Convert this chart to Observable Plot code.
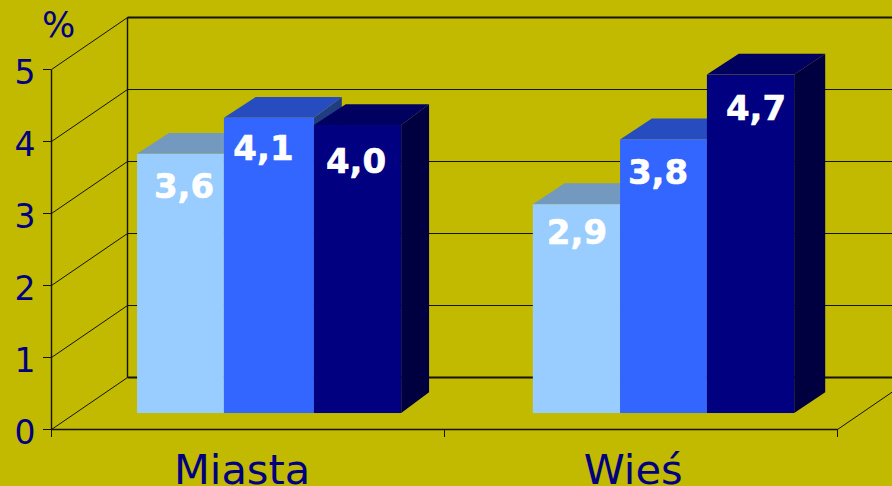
<!DOCTYPE html>
<html><head><meta charset="utf-8">
<script src="https://cdn.jsdelivr.net/npm/d3@7"></script>
<script src="https://cdn.jsdelivr.net/npm/@observablehq/plot@0.6"></script>
<style>html,body{margin:0;padding:0;background:#C1BA00;overflow:hidden}svg{display:block}</style>
</head><body><div id="chart"></div>
<script>
const categories = ["Miasta", "Wieś"];
const seriesLight = [3.6, 2.9];
const seriesMid = [4.1, 3.8];
const seriesDark = [4.0, 4.7];
const valueTicks = [0, 1, 2, 3, 4, 5];
const decimalLabel = v => v.toFixed(1).replace(".", ",");

const bg = "#C1BA00", navy = "#000080", line = "#141300";
const faces = [
  {front: "#99CCFF", top: "#7399BF", side: "#4D6680"},
  {front: "#3366FF", top: "#264CBF", side: "#1F3D80"},
  {front: "#000080", top: "#000060", side: "#000040"}
];
const series = [seriesLight, seriesMid, seriesDark];

// geometry in data units: x in categories, y in value units
const edges = [[0.219, 0.440, 0.669, 0.891], [1.226, 1.448, 1.669, 1.891]];
const floor = 0.222, barDY = 0.29, barDXLeft = 0.081, barDXRight = [0.071, 0.079];
const wallDX = 0.1934, wallDY = 0.722;
const labelNudge = [
  [[3, 33], [-6, 31], [-2, 37]],
  [[0, 28], [-6, 33], [5, 34]]
];
const catCenter = [0.485, 1.48];

const walls = [
  ...valueTicks.map(v => ({x1: 0, y1: v, x2: wallDX, y2: v + wallDY})),
  {x1: 2, y1: 0, x2: 2 + wallDX, y2: wallDY}
];
const grid = valueTicks.map(v => ({x1: wallDX, y1: v + wallDY, x2: 2.4, y2: v + wallDY, w: v === 0 || v === 5 ? 2 : 1}));
const verticals = [
  {x1: 0, y1: 0, x2: 0, y2: 5},
  {x1: wallDX, y1: wallDY, x2: wallDX, y2: 5 + wallDY}
];

const barMarks = [], labels = [];
categories.forEach((c, g) => {
  series.forEach((s, i) => {
    const l = edges[g][i], r = edges[g][i + 1], v = s[g], f = faces[i], dr = barDXRight[g];
    barMarks.push(
      Plot.areaY([{x: r, y1: floor, y2: floor + v}, {x: r + dr, y1: floor + barDY, y2: floor + v + barDY}],
        {x: "x", y1: "y1", y2: "y2", fill: f.side}),
      Plot.areaX([{y: floor + v, x1: l, x2: r}, {y: floor + v + barDY, x1: l + barDXLeft, x2: r + dr}],
        {y: "y", x1: "x1", x2: "x2", fill: f.top}),
      Plot.rect([{x1: l, x2: r, y1: floor, y2: floor + v}],
        {x1: "x1", x2: "x2", y1: "y1", y2: "y2", fill: f.front})
    );
    labels.push(Plot.text([v], {
      x: () => (l + r) / 2, y: () => floor + v, text: decimalLabel,
      dx: labelNudge[g][i][0], dy: labelNudge[g][i][1],
      fill: "white", stroke: "white", strokeWidth: 0.6, fontSize: 34, fontWeight: "bold", textAnchor: "middle", lineAnchor: "middle"
    }));
  });
});

const plot = Plot.plot({
  width: 892, height: 486,
  marginTop: 69, marginRight: 55, marginBottom: 57, marginLeft: 51,
  style: {background: bg, fontFamily: "'DejaVu Sans'", overflow: "hidden"},
  x: {domain: [0, 2]},
  y: {domain: [0, 5]},
  marks: [
    Plot.link(grid, {x1: "x1", y1: "y1", x2: "x2", y2: "y2", stroke: line, strokeWidth: "w"}),
    Plot.link(walls, {x1: "x1", y1: "y1", x2: "x2", y2: "y2", stroke: line, strokeWidth: 1}),
    Plot.link(verticals, {x1: "x1", y1: "y1", x2: "x2", y2: "y2", stroke: line, strokeWidth: 1.4}),
    Plot.axisY({ticks: valueTicks, anchor: "left", tickSize: 8, text: null, color: line, label: null}),
    Plot.axisX({ticks: [0, 1, 2], anchor: "bottom", tickSize: 8, text: null, color: line, label: null}),
    Plot.link([{x1: 0, y1: 0, x2: 2, y2: 0}], {x1: "x1", y1: "y1", x2: "x2", y2: "y2", stroke: line, strokeWidth: 1.6}),
    Plot.axisY({ticks: valueTicks, anchor: "left", tickSize: 0, tickPadding: 16, fontSize: 33, color: navy, label: null, tickFormat: d => String(d), dy: 4}),
    ...barMarks,
    ...labels,
    Plot.text(categories, {
      x: (d, i) => catCenter[i], y: () => 0, text: d => d, dy: 41,
      fontSize: 41.5, fill: navy, textAnchor: "middle", lineAnchor: "middle"
    }),
    Plot.text(["%"], {
      x: () => 0, y: () => 5, text: d => d, dx: 7, dy: -44,
      fontSize: 35, fill: navy, lineAnchor: "middle"
    })
  ]
});
document.getElementById("chart").appendChild(plot);
</script></body></html>
